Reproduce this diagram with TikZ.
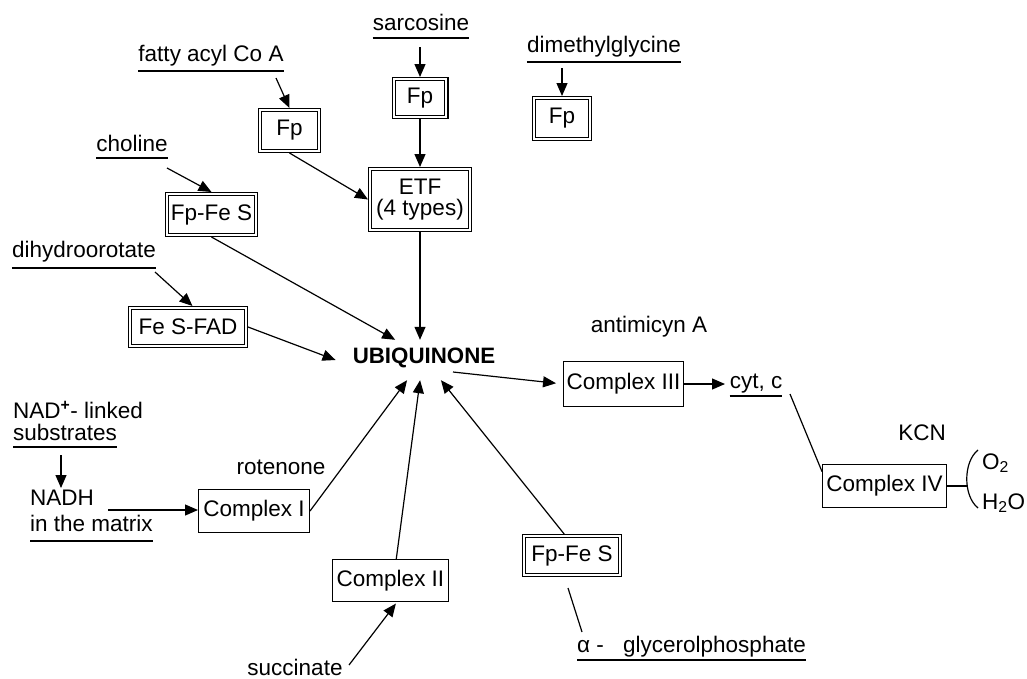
\documentclass[tikz,border=0pt]{standalone}
\usepackage{fontspec}
\setmainfont{Liberation Sans}
\usetikzlibrary{arrows.meta}
\begin{document}
\begin{tikzpicture}[x=1pt,y=-1pt,
  every node/.style={font=\fontsize{22.5}{27}\selectfont, inner sep=0pt},
  lbl/.style={anchor=base},
  lblw/.style={anchor=base west},
  dbox/.style={draw, line width=1.1pt, double, double distance=2.2pt, outer sep=2.2pt},
  sbox/.style={draw, line width=1.3pt, outer sep=0.65pt},
  arr/.style={line width=1.2pt, -{Triangle[length=13pt,width=11pt]}},
  conn/.style={line width=1.2pt},
  uline/.style={line width=1.1pt}]
\useasboundingbox (0,0) rectangle (1027,678);

% boxes
\node[dbox, minimum width=52.6pt, minimum height=37.6pt] (fpS) at (420,98) {Fp};
\node[dbox, minimum width=99.6pt, minimum height=60.6pt, align=center,
      font=\fontsize{22.5}{20.5}\selectfont] (etf) at (420,199.5) {ETF\\(4 types)};
\node[dbox, minimum width=58.6pt, minimum height=40.6pt] (fpF) at (289.5,130.5) {Fp};
\node[dbox, minimum width=88.6pt, minimum height=40.6pt] (fpfes1) at (211.5,214.5) {Fp-Fe S};
\node[dbox, minimum width=115.6pt, minimum height=37.6pt] (fesfad) at (188,327) {Fe S-FAD};
\node[dbox, minimum width=55.6pt, minimum height=40.6pt] (fpD) at (562,118.5) {Fp};
\node[dbox, minimum width=95.6pt, minimum height=38.6pt] (fpfes2) at (572,555.5) {Fp-Fe S};
\node[sbox, minimum width=110.7pt, minimum height=42.7pt] (cI) at (254,511) {Complex I};
\node[sbox, minimum width=115.7pt, minimum height=41.7pt] (cII) at (390.5,580.5) {Complex II};
\node[sbox, minimum width=119.7pt, minimum height=44.7pt] (cIII) at (623.5,384) {Complex III};
\node[sbox, minimum width=123.7pt, minimum height=42.7pt] (cIV) at (884.5,486) {Complex IV};

\node[anchor=base, font=\fontsize{22.3}{27}\selectfont\bfseries, text height=16pt,
      text depth=10pt, inner xsep=17pt, inner ysep=7pt] (ubi) at (424,363) {UBIQUINONE};

% labels
\node[lbl] (sarc) at (421,30) {sarcosine};
\node[lbl] (fatty) at (211,61) {fatty acyl Co A};
\node[lbl] (dimg) at (604,52) {dimethylglycine};
\node[lbl] (chol) at (132,151) {choline};
\node[lbl] (dihy) at (84,257) {dihydroorotate};
\node[lblw] (nad1) at (13,418) {NAD\textsuperscript{\textbf{+}}- linked};
\node[lblw] (nad2) at (13,440) {substrates};
\node[lblw] (nadh1) at (30,505) {NADH};
\node[lblw] (nadh2) at (30,531) {in the matrix};
\node[lbl] (rot) at (281,474) {rotenone};
\node[lbl] (succ) at (295,675) {succinate};
\node[lbl] (anti) at (649,332) {antimicyn A};
\node[lbl] (cyt) at (756,388) {cyt, c};
\node[lbl] (kcn) at (922,440) {KCN};
\node[lblw] (o2) at (982,469) {O\textsubscript{2}};
\node[lblw] (h2o) at (982,509) {H\textsubscript{2}O};
\node[lblw] (gly) at (577,652) {α - \hspace{13pt}glycerolphosphate};

% underlines
\draw[uline] ([yshift=-8pt]sarc.base west) -- ([yshift=-8pt]sarc.base east);
\draw[uline] ([yshift=-10pt]fatty.base west) -- ([yshift=-10pt]fatty.base east);
\draw[uline] ([yshift=-10pt]dimg.base west) -- ([yshift=-10pt]dimg.base east);
\draw[uline] ([yshift=-7pt]chol.base west) -- ([yshift=-7pt]chol.base east);
\draw[uline] ([yshift=-11pt]dihy.base west) -- ([yshift=-11pt]dihy.base east);
\draw[uline] ([yshift=-7pt]nad2.base west) -- ([yshift=-7pt]nad2.base east);
\draw[uline] ([yshift=-10pt]nadh2.base west) -- ([yshift=-10pt]nadh2.base east);
\draw[uline] ([yshift=-8pt]cyt.base west) -- ([yshift=-8pt]cyt.base east);
\draw[uline] ([yshift=-8pt]gly.base west) -- ([yshift=-8pt]gly.base east);

% free ends
\coordinate (sarcA) at (420,47);
\coordinate (fattyA) at (276,78);
\coordinate (dimA) at (562,68);
\coordinate (cholA) at (167,168);
\coordinate (dihA) at (155,272);
\coordinate (nadA) at (61,455);
\coordinate (nadB) at (61,488);
\coordinate (nadhA) at (108,510);
\coordinate (succA) at (349,665);
\coordinate (glyA) at (568,588);
\coordinate (glyB) at (582,632);
\coordinate (cytA) at (725,384);
\coordinate (cytB) at (790,394);
\coordinate (brkT) at (978,450);
\coordinate (brkM) at (967,485);
\coordinate (brkB) at (978,508);

% connectors
\draw[arr] (sarcA) -- (fpS.north);
\draw[arr] (fpS.south) -- (etf.north);
\draw[arr] (fattyA) -- (fpF.north);
\draw[arr] (fpF.south) -- (etf.west);
\draw[arr] (dimA) -- (fpD.north);
\draw[arr] (cholA) -- (fpfes1.north);
\draw[arr] (fpfes1.south) -- (ubi.145);
\draw[arr] (dihA) -- (fesfad.78);
\draw[arr] (fesfad.east) -- (ubi.west);
\draw[arr] (etf.south) -- (etf.south |- ubi.north);
\draw[arr] (nadA) -- (nadB);
\draw[arr] (nadhA) -- (nadhA -| cI.west);
\draw[arr] (cI.east) -- (ubi.230);
\draw[arr, shorten >=2pt] (succA) -- (cII.-73);
\draw[arr] (cII.75) -- (ubi.259);
\draw[arr] (fpfes2.110) -- (ubi.310);
\draw[conn] (glyA) -- (glyB);
\draw[arr, shorten >=7pt] ([shift={(29,12)}]ubi.center) -- (cIII.west);
\draw[arr] (cIII.east) -- (cytA);
\draw[conn] (cytB) -- (cIV.167);
\draw[conn] (cIV.east) -- (cIV.east -| brkM);
\draw[conn] (brkT) .. controls (963,462) and (963,496) .. (brkB);
\end{tikzpicture}
\end{document}
